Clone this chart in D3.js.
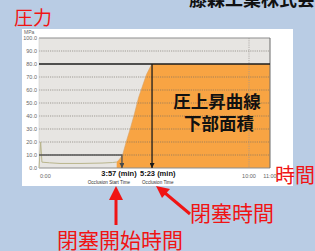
<!DOCTYPE html>
<html>
<head>
<meta charset="utf-8">
<script src="https://cdn.jsdelivr.net/npm/d3@7"></script>
<style>
  html, body { margin: 0; padding: 0; background: #b9cce4; }
  svg { display: block; }
</style>
</head>
<body>
<div id="chart"></div>
<script>
// data
const yTicks = [0, 10, 20, 30, 40, 50, 60, 70, 80, 90, 100];
const xTickValues = [0, 10, 11];
const xTickLabels = ["0:00", "10:00", "11:00"];

// baseline before occlusion (min, MPa)
const baseTimes = [0, 0.08, 0.14, 0.5, 1, 2, 3, 3.5, 3.7];
const baseValues = [0, 20, 4.5, 4, 3.5, 3.5, 3.8, 4.2, 4.6];

// pressure rise curve (min, MPa)
const riseTimes = [3.70, 3.80, 3.98, 4.17, 4.36, 4.55, 4.74, 4.93, 5.12, 5.31, 5.38];
const riseValues = [4.6, 6, 10, 21, 31, 42, 54, 63, 72, 78, 80];

const startTime = 3.95, startLabel = "3:57 (min)", startSub = "Occlusion Start Time";
const occTime = 5.383, occLabel = "5:23 (min)", occSub = "Occlusion Time";
const startLevel = 10, occLevel = 80, endTime = 11;

const width = 315, height = 251;

const svg = d3.select("#chart").append("svg")
    .attr("width", width)
    .attr("height", height);

// white panel
svg.append("rect").attr("x", 22).attr("y", 29).attr("width", 271).attr("height", 157).attr("fill", "#fff");

const x = d3.scaleLinear().domain([0, 11]).range([39, 270]);
const y = d3.scaleLinear().domain([0, 100]).range([168, 38]);

// plot background
svg.append("rect")
    .attr("x", x(0)).attr("y", y(100))
    .attr("width", x(11) - x(0)).attr("height", y(0) - y(100))
    .attr("fill", "#e7e5e2");

// orange area under curve
const areaPts = riseTimes.map((t, i) => [t, riseValues[i]]).concat([[endTime, occLevel]]);
svg.append("path")
    .datum(areaPts)
    .attr("fill", "#f8a443")
    .attr("d", d3.area().x(d => x(d[0])).y0(y(0)).y1(d => y(d[1])));

// grid
svg.append("g").selectAll("line")
    .data(yTicks.filter(v => v > 0 && v < 100 && v !== occLevel))
    .enter().append("line")
    .attr("x1", x(0)).attr("x2", x(11))
    .attr("y1", d => y(d)).attr("y2", d => y(d))
    .attr("stroke", "#6f6a63").attr("stroke-opacity", 0.75)
    .attr("stroke-width", 0.8).attr("stroke-dasharray", "1.2,1");

svg.append("line")
    .attr("x1", x(10)).attr("x2", x(10)).attr("y1", y(100)).attr("y2", y(0))
    .attr("stroke", "#9d9a95").attr("stroke-width", 0.7).attr("stroke-dasharray", "1.2,1");

// frame
svg.append("line").attr("x1", x(0)).attr("x2", x(11)).attr("y1", y(100)).attr("y2", y(100))
    .attr("stroke", "#8d8d8d").attr("stroke-width", 1);
svg.append("line").attr("x1", x(0)).attr("x2", x(11)).attr("y1", y(0)).attr("y2", y(0))
    .attr("stroke", "#8d8d8d").attr("stroke-width", 1);
svg.append("line").attr("x1", x(11)).attr("x2", x(11)).attr("y1", y(100)).attr("y2", y(0))
    .attr("stroke", "#6b6b6b").attr("stroke-width", 1);
svg.append("line").attr("x1", x(0)).attr("x2", x(0)).attr("y1", y(100)).attr("y2", y(0))
    .attr("stroke", "#cfcfcf").attr("stroke-width", 0.6);

// baseline trace
svg.append("path")
    .datum(baseTimes.map((t, i) => [t, baseValues[i]]))
    .attr("fill", "none").attr("stroke", "#b9b58c").attr("stroke-width", 1)
    .attr("d", d3.line().x(d => x(d[0])).y(d => y(d[1])));

// rise trace edge
svg.append("path")
    .datum(riseTimes.map((t, i) => [t, riseValues[i]]))
    .attr("fill", "none").attr("stroke", "#d9a060").attr("stroke-width", 0.6)
    .attr("d", d3.line().x(d => x(d[0])).y(d => y(d[1])));

// arrow markers
const defs = svg.append("defs");
function marker(id, color) {
    defs.append("marker")
        .attr("id", id).attr("viewBox", "0 -5 10 10")
        .attr("refX", 10).attr("refY", 0)
        .attr("markerWidth", 5).attr("markerHeight", 5)
        .attr("markerUnits", "userSpaceOnUse")
        .attr("orient", "auto")
        .append("path").attr("d", "M0,-5L10,0L0,5Z").attr("fill", color);
}
marker("headGray", "#4a4a4a");
marker("headBlack", "#1a1a1a");

// occlusion start marker
svg.append("path")
    .attr("d", `M${x(0)},${y(startLevel)}H${x(startTime)}V${y(0)}`)
    .attr("fill", "none").attr("stroke", "#555").attr("stroke-width", 1.4)
    .attr("marker-end", "url(#headGray)");

// occlusion level line
svg.append("line")
    .attr("x1", x(0)).attr("x2", x(11)).attr("y1", y(occLevel)).attr("y2", y(occLevel))
    .attr("stroke", "#1d1d1d").attr("stroke-width", 1.5);

// occlusion time marker
svg.append("line")
    .attr("x1", x(occTime)).attr("x2", x(occTime)).attr("y1", y(occLevel)).attr("y2", y(0))
    .attr("stroke", "#1d1d1d").attr("stroke-width", 1.3)
    .attr("marker-end", "url(#headBlack)");

// y axis labels
const small = "'Liberation Sans', Arial, sans-serif";
svg.append("g").selectAll("text")
    .data(yTicks)
    .enter().append("text")
    .attr("x", 37).attr("y", d => y(d) + 2)
    .attr("text-anchor", "end")
    .attr("font-family", small).attr("font-size", 5.5).attr("fill", "#666")
    .text(d => d.toFixed(1));
svg.append("text").attr("x", 24).attr("y", 34)
    .attr("font-family", small).attr("font-size", 5).attr("fill", "#666").text("MPa");

// x axis labels
svg.append("g").selectAll("text")
    .data(xTickValues)
    .enter().append("text")
    .attr("x", (d, i) => i === 0 ? x(d) + 1 : x(d))
    .attr("y", 178)
    .attr("text-anchor", (d, i) => i === 0 ? "start" : "middle")
    .attr("font-family", small).attr("font-size", 5.5).attr("fill", "#666")
    .text((d, i) => xTickLabels[i]);

// marker labels
svg.append("text").attr("x", x(startTime) - 3).attr("y", 176).attr("text-anchor", "middle")
    .attr("font-family", small).attr("font-size", 7.5).attr("font-weight", "bold").attr("fill", "#111")
    .text(startLabel);
svg.append("text").attr("x", x(startTime) - 13).attr("y", 183.5).attr("text-anchor", "middle")
    .attr("font-family", small).attr("font-size", 4.6).attr("fill", "#333")
    .text(startSub);
svg.append("text").attr("x", x(occTime) - 12).attr("y", 176).attr("text-anchor", "start")
    .attr("font-family", small).attr("font-size", 7.5).attr("font-weight", "bold").attr("fill", "#111")
    .text(occLabel);
svg.append("text").attr("x", x(occTime) - 10).attr("y", 183.5).attr("text-anchor", "start")
    .attr("font-family", small).attr("font-size", 4.6).attr("fill", "#333")
    .text(occSub);

// big label in area
const cjk = "'Noto Sans CJK JP', sans-serif";
svg.append("text").attr("x", 217).attr("y", 108).attr("text-anchor", "middle")
    .attr("font-family", cjk).attr("font-size", 17.5).attr("font-weight", "bold").attr("fill", "#111")
    .text("圧上昇曲線");
svg.append("text").attr("x", 219).attr("y", 130).attr("text-anchor", "middle")
    .attr("font-family", cjk).attr("font-size", 17.5).attr("font-weight", "bold").attr("fill", "#111")
    .text("下部面積");

// header (cut off at top)
svg.append("text").attr("x", 189).attr("y", 6)
    .attr("font-family", cjk).attr("font-size", 18).attr("font-weight", "bold").attr("fill", "#111")
    .text("藤森工業株式会社");

// red annotations
const red = "#f01414";
function redText(tx, ty, size, s) {
    svg.append("text").attr("x", tx).attr("y", ty)
        .attr("font-family", cjk).attr("font-size", size).attr("fill", red).text(s);
}
redText(14, 25, 19, "圧力");
redText(275, 183, 20, "時間");
redText(190, 221, 21, "閉塞時間");
redText(57, 248, 21, "閉塞開始時間");

// red arrows
svg.append("line").attr("x1", 116).attr("y1", 225).attr("x2", 116).attr("y2", 198)
    .attr("stroke", red).attr("stroke-width", 3);
svg.append("path").attr("d", "M109,200L123,200L116,186Z").attr("fill", red);
svg.append("line").attr("x1", 190).attr("y1", 214).attr("x2", 165).attr("y2", 193)
    .attr("stroke", red).attr("stroke-width", 3);
svg.append("path").attr("d", "M156,186L170,189L162,198Z").attr("fill", red);
</script>
</body>
</html>
